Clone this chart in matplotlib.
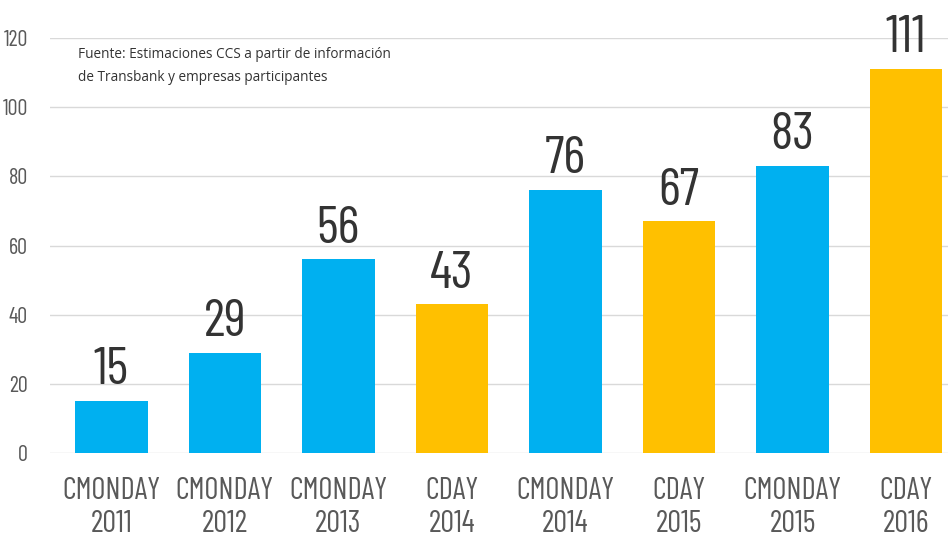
import matplotlib
matplotlib.use("Agg")
import matplotlib.pyplot as plt
from matplotlib import font_manager

# data
events = ["CMONDAY", "CMONDAY", "CMONDAY", "CDAY", "CMONDAY", "CDAY", "CMONDAY", "CDAY"]
years = ["2011", "2012", "2013", "2014", "2014", "2015", "2015", "2016"]
sales = [15, 29, 56, 43, 76, 67, 83, 111]
y_ticks = [0, 20, 40, 60, 80, 100, 120]
note = "Fuente: Estimaciones CCS a partir de información\nde Transbank y empresas participantes"

BLUE = "#00B0F0"
GOLD = "#FFC000"
colors = [GOLD if e == "CDAY" else BLUE for e in events]

# pick a condensed face, falling back to DejaVu Sans condensed
installed = {f.name for f in font_manager.fontManager.ttflist}
narrow = next((n for n in ["Barlow Condensed", "Roboto Condensed", "Oswald"] if n in installed), None)
if narrow:
    nfont = dict(family=[narrow, "DejaVu Sans"], weight="normal")
else:
    nfont = dict(family=["DejaVu Sans"], stretch="condensed")

fig = plt.figure(figsize=(9.48, 5.41), dpi=100)
ax = fig.add_axes([50 / 948, 88 / 541, 898 / 948, 415 / 541])

x = list(range(len(sales)))
ax.bar(x, sales, width=0.64, color=colors, zorder=2)

for xi, v in zip(x, sales):
    ax.annotate(str(v), (xi, v), xytext=(0, 12), textcoords="offset points",
                ha="center", va="baseline", fontsize=38, color="#333333",
                clip_on=False, **nfont)

ax.set_xlim(-0.54, 7.37)
ax.set_ylim(0, 120)
ax.set_yticks(y_ticks)
ax.yaxis.grid(True, color="#d9d9d9", linewidth=1, zorder=0)
ax.set_axisbelow(True)
for s in ax.spines.values():
    s.set_visible(False)

ax.set_xticks(x)
ax.set_xticklabels([f"{e}\n{y}" for e, y in zip(events, years)],
                   fontsize=22, color="#595959", linespacing=1.25, **nfont)
ax.set_yticklabels([str(t) for t in y_ticks], fontsize=16, color="#595959", **nfont)
ax.tick_params(axis="x", length=0, pad=17)
ax.tick_params(axis="y", length=0, pad=16)

fig.text(78 / 948, 1 - 66 / 541, note, family="Open Sans", fontsize=9.8,
         color="#333333", va="center", linespacing=1.8)

fig.savefig("out.png", dpi=100)
